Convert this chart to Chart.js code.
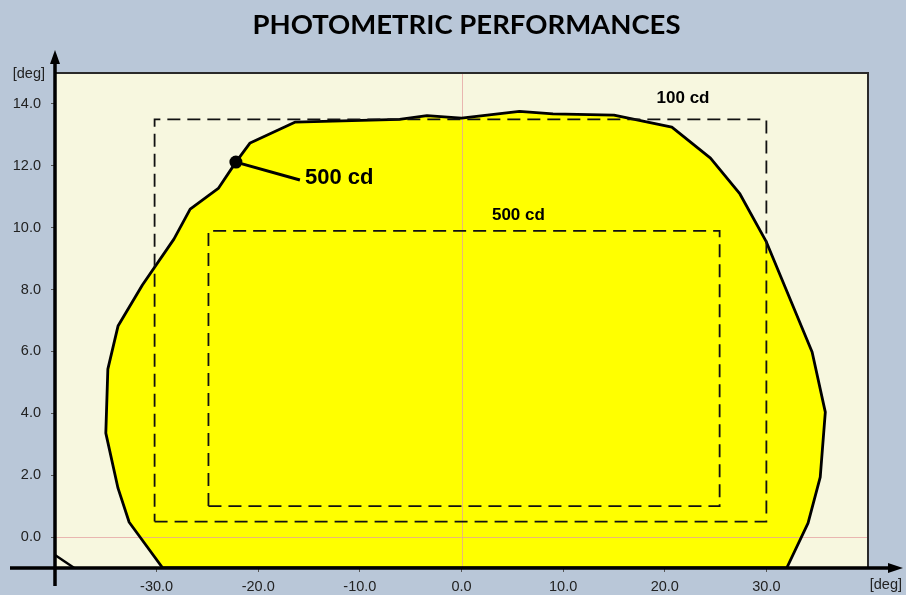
<!DOCTYPE html>
<html><head><meta charset="utf-8">
<script src="https://cdn.jsdelivr.net/npm/chart.js@4.4.0/dist/chart.umd.min.js"></script>
<style>
html,body{margin:0;padding:0;background:#B9C7D8;}
#wrap{width:906px;height:595px;position:relative;}
</style></head><body>
<div id="wrap"><canvas id="c" width="906" height="595"></canvas></div>
<script>
const titleText = 'PHOTOMETRIC PERFORMANCES';
const axisUnit = '[deg]';
const xTickValues = [-30, -20, -10, 0, 10, 20, 30];
const yTickValues = [0, 2, 4, 6, 8, 10, 12, 14];

// 500 cd iso-contour (yellow area)
const contourX = [-29.4, -32.7, -33.8, -35.0, -34.8, -33.8, -31.4, -28.3, -26.7, -23.9, -22.2, -20.8, -16.4, -6.1, -3.4, 0.0, 5.7, 9.0, 15.0, 20.7, 24.5, 27.4, 30.0, 34.5, 35.8, 35.3, 34.1, 32.0, -29.4];
const contourY = [-1.0, 0.48, 1.58, 3.36, 5.43, 6.82, 8.15, 9.63, 10.6, 11.28, 12.12, 12.74, 13.41, 13.5, 13.62, 13.54, 13.76, 13.68, 13.64, 13.25, 12.25, 11.09, 9.54, 5.98, 4.04, 1.94, 0.45, -1.0, -1.0];

// requirement boxes
const rect100X = [-30.2, 30.0, 30.0, -30.2, -30.2];
const rect100Y = [0.5, 0.5, 13.5, 13.5, 0.5];
const rect500X = [-24.9, 25.4, 25.4, -24.9, -24.9];
const rect500Y = [1.0, 1.0, 9.9, 9.9, 1.0];

// leader line of the contour label
const leaderX = [-22.2, -15.9];
const leaderY = [12.12, 11.54];

// fragment of another contour at bottom-left
const cornerX = [-40.0, -38.1];
const cornerY = [-0.58, -1.0];

// annotation texts (data coordinates)
const annotTexts = ['100 cd', '500 cd', '500 cd'];
const annotX = [21.8, 5.6, -15.4];
const annotY = [14.19, 10.41, 11.62];

const pts = (xs, ys) => xs.map((x, i) => ({x: x, y: ys[i]}));

const FONT = "'Liberation Sans', Arial, sans-serif";
const PAGE_BG = '#B9C7D8';
const PLOT_BG = '#F7F7DF';
const GRID0 = 'rgba(228,160,160,0.75)';

const decor = {
  id: 'decor',
  beforeDraw(chart) {
    const {ctx, chartArea: a} = chart;
    ctx.save();
    ctx.fillStyle = PAGE_BG;
    ctx.fillRect(0, 0, chart.width, chart.height);
    ctx.fillStyle = PLOT_BG;
    ctx.fillRect(a.left, a.top, a.right - a.left, a.bottom - a.top);
    ctx.restore();
  },
  afterDatasetDraw(chart, args) {
    if (args.index !== 0) return;
    const {ctx, chartArea: a, scales} = chart;
    const x0 = Math.round(scales.x.getPixelForValue(0)) + 0.5;
    const y0 = Math.round(scales.y.getPixelForValue(0)) + 0.5;
    ctx.save();
    ctx.strokeStyle = GRID0;
    ctx.lineWidth = 1;
    ctx.beginPath();
    ctx.moveTo(x0, a.top); ctx.lineTo(x0, a.bottom);
    ctx.moveTo(a.left, y0); ctx.lineTo(a.right, y0);
    ctx.stroke();
    ctx.restore();
  },
  afterDraw(chart) {
    const {ctx, chartArea: a, scales} = chart;
    ctx.save();
    // frame top/right
    ctx.strokeStyle = '#2a2a2a';
    ctx.lineWidth = 2;
    ctx.beginPath();
    ctx.moveTo(a.left, a.top); ctx.lineTo(a.right, a.top); ctx.lineTo(a.right, a.bottom);
    ctx.stroke();
    // axis arrows
    ctx.strokeStyle = '#000';
    ctx.fillStyle = '#000';
    ctx.lineWidth = 3.5;
    ctx.beginPath();
    ctx.moveTo(a.left, 586); ctx.lineTo(a.left, 60);
    ctx.moveTo(10, a.bottom); ctx.lineTo(892, a.bottom);
    ctx.stroke();
    ctx.beginPath();
    ctx.moveTo(a.left, 50); ctx.lineTo(a.left - 5, 64); ctx.lineTo(a.left + 5, 64); ctx.closePath();
    ctx.fill();
    ctx.beginPath();
    ctx.moveTo(903, a.bottom); ctx.lineTo(888, a.bottom - 5); ctx.lineTo(888, a.bottom + 5); ctx.closePath();
    ctx.fill();
    // unit labels
    ctx.fillStyle = '#222';
    ctx.font = '14.5px ' + FONT;
    ctx.textBaseline = 'middle';
    ctx.textAlign = 'right';
    ctx.fillText(axisUnit, 45, 74);
    ctx.fillText(axisUnit, 902, 585);
    // title
    ctx.fillStyle = '#000';
    ctx.font = "bold 27.5px Lato, 'Open Sans', sans-serif";
    ctx.textAlign = 'center';
    ctx.textBaseline = 'alphabetic';
    ctx.fillText(titleText, 466.5, 33.5);
    // annotations
    ctx.textBaseline = 'middle';
    annotTexts.forEach((t, i) => {
      const px = scales.x.getPixelForValue(annotX[i]);
      const py = scales.y.getPixelForValue(annotY[i]);
      if (i === 2) {
        ctx.font = 'bold 22px ' + FONT;
        ctx.textAlign = 'left';
      } else {
        ctx.font = 'bold 17px ' + FONT;
        ctx.textAlign = 'center';
      }
      ctx.fillText(t, px, py);
    });
    ctx.restore();
  }
};

const tickFont = {family: FONT, size: 14.5};

new Chart(document.getElementById('c'), {
  type: 'scatter',
  data: {
    datasets: [
      {
        data: pts(contourX, contourY),
        showLine: true, fill: 'shape', backgroundColor: '#FFFF00',
        borderColor: 'rgba(0,0,0,0)', borderWidth: 0, pointRadius: 0, tension: 0, order: 10
      },
      {
        data: pts(contourX, contourY),
        showLine: true, fill: false, borderColor: '#000', borderWidth: 2.8,
        pointRadius: 0, tension: 0, order: 5, borderJoinStyle: 'round'
      },
      {
        data: pts(rect100X, rect100Y),
        showLine: true, fill: false, borderColor: '#111', borderWidth: 1.8,
        borderDash: [13, 7], pointRadius: 0, tension: 0, order: 4
      },
      {
        data: pts(rect500X, rect500Y),
        showLine: true, fill: false, borderColor: '#111', borderWidth: 1.8,
        borderDash: [13, 7], pointRadius: 0, tension: 0, order: 4
      },
      {
        data: pts(cornerX, cornerY),
        showLine: true, fill: false, borderColor: '#000', borderWidth: 2.4,
        pointRadius: 0, tension: 0, order: 3
      },
      {
        data: pts(leaderX, leaderY),
        showLine: true, fill: false, borderColor: '#000', borderWidth: 3,
        pointRadius: [6.5, 0], pointBackgroundColor: '#000', pointBorderWidth: 0,
        tension: 0, order: 1
      }
    ]
  },
  options: {
    responsive: false,
    animation: false,
    devicePixelRatio: 1,
    layout: {padding: {top: 73, right: 38, left: 0, bottom: 0}},
    plugins: {legend: {display: false}, tooltip: {enabled: false}, title: {display: false}},
    scales: {
      x: {
        type: 'linear', min: -40, max: 40,
        afterBuildTicks: s => { s.ticks = xTickValues.map(v => ({value: v})); },
        afterFit: s => { s.height = 27; },
        ticks: {callback: v => Number(v).toFixed(1), font: tickFont, color: '#222', padding: 6, maxRotation: 0, autoSkip: false},
        grid: {drawOnChartArea: false, tickLength: 4, tickColor: '#555', tickWidth: 1},
        border: {display: false}
      },
      y: {
        type: 'linear', min: -1, max: 15,
        afterBuildTicks: s => { s.ticks = yTickValues.map(v => ({value: v})); },
        afterFit: s => { s.width = 55; },
        ticks: {callback: v => Number(v).toFixed(1), font: tickFont, color: '#222', padding: 10, autoSkip: false},
        grid: {drawOnChartArea: false, tickLength: 4, tickColor: '#555', tickWidth: 1},
        border: {display: false}
      }
    }
  },
  plugins: [decor]
});
</script>
</body></html>
